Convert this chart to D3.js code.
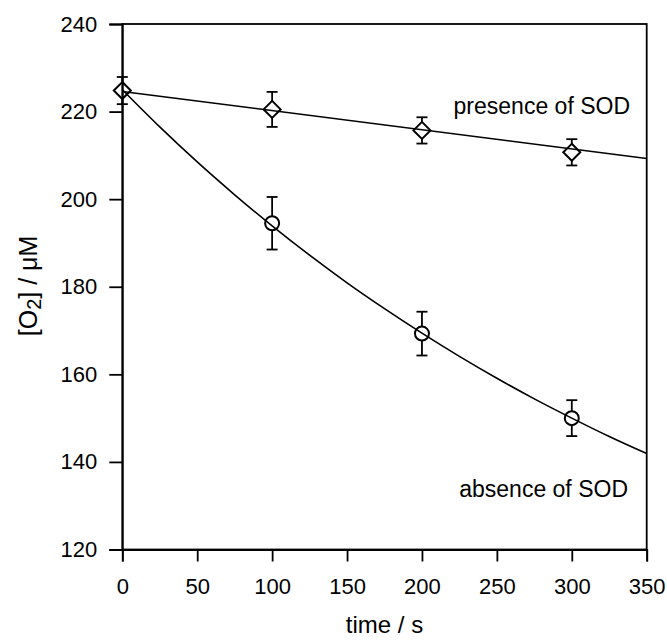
<!DOCTYPE html>
<meta charset="utf-8">
<html>
<head>
    <title>O2 vs time</title>
    <script src="https://d3js.org/d3.v7.min.js"></script>
    <style>
        body { margin: 0; background: #fff; }
        text { font-family: "Liberation Sans", Arial, sans-serif; fill: #000; }
    </style>
</head>
<body>
    <div id="chart"></div>

    <script type="text/javascript">

        // data
        var xTicks = [0, 50, 100, 150, 200, 250, 300, 350],
            yTicks = [120, 140, 160, 180, 200, 220, 240];

        // with SOD (diamonds)
        var presenceT = [0, 100, 200, 300],
            presenceO2 = [224.8, 220.5, 215.7, 210.7],
            presenceErr = [3.1, 4.0, 3.0, 3.0];
        var presenceFitT = [0, 350],
            presenceFitO2 = [224.6, 209.3];

        // without SOD (circles)
        var absenceT = [100, 200, 300],
            absenceO2 = [194.5, 169.3, 150.0],
            absenceErr = [6.0, 5.0, 4.1];
        var absenceFitT = [0, 25, 50, 75, 100, 125, 150, 175, 200, 225, 250, 275, 300, 325, 350],
            absenceFitO2 = [225, 216.5, 208.5, 201.0, 193.9, 187.2, 180.9, 175.0, 169.4, 164.1, 159.1, 154.4, 150.0, 145.8, 141.9];

        var W = 667, H = 640,
            margin = { top: 24, right: 20.3, bottom: 90.5, left: 122.3 },
            width = W - margin.left - margin.right,
            height = H - margin.top - margin.bottom;

        var svg = d3.select("#chart").append("svg")
            .attr("width", W)
            .attr("height", H);

        var x = d3.scaleLinear().domain([0, 350]).range([margin.left, margin.left + width]);
        var y = d3.scaleLinear().domain([120, 240]).range([margin.top + height, margin.top]);

        // frame
        svg.append("rect")
            .attr("x", x(0)).attr("y", y(240))
            .attr("width", x(350) - x(0)).attr("height", y(120) - y(240))
            .style("fill", "none").style("stroke", "#000").style("stroke-width", 1.8);

        // axes
        var xAxis = svg.append("g")
            .attr("transform", "translate(0," + y(120) + ")")
            .call(d3.axisBottom(x).tickValues(xTicks).tickSize(12).tickPadding(17));
        var yAxis = svg.append("g")
            .attr("transform", "translate(" + x(0) + ",0)")
            .call(d3.axisLeft(y).tickValues(yTicks).tickSize(13).tickPadding(12));

        [xAxis, yAxis].forEach(function (g) {
            g.select(".domain").style("stroke-width", 1.8);
            g.selectAll(".tick line").style("stroke-width", 1.8);
            g.selectAll(".tick text")
                .style("font-size", "22px")
                .style("font-family", "'Liberation Sans', Arial, sans-serif");
        });

        // axis titles
        svg.append("text")
            .attr("x", (x(0) + x(350)) / 2)
            .attr("y", 633)
            .attr("text-anchor", "middle")
            .style("font-size", "24px")
            .text("time / s");

        var yt = svg.append("text")
            .attr("transform", "translate(37,286) rotate(-90)")
            .attr("text-anchor", "middle")
            .style("font-size", "25px");
        yt.append("tspan").text("[O");
        yt.append("tspan").attr("dy", 4).style("font-size", "20px").text("2");
        yt.append("tspan").attr("dy", -4).text("] / \u03bcM");

        // fitted curves
        var line = d3.line()
            .x(function (d) { return x(d[0]); })
            .y(function (d) { return y(d[1]); })
            .curve(d3.curveMonotoneX);

        svg.append("path")
            .datum(presenceFitT.map(function (t, i) { return [t, presenceFitO2[i]]; }))
            .attr("d", line)
            .style("fill", "none").style("stroke", "#000").style("stroke-width", 1.6);

        svg.append("path")
            .datum(absenceFitT.map(function (t, i) { return [t, absenceFitO2[i]]; }))
            .attr("d", line)
            .style("fill", "none").style("stroke", "#000").style("stroke-width", 1.6);

        // error bars + markers
        function errorBars(ts, vals, errs, gap) {
            var g = svg.append("g").style("stroke", "#000").style("stroke-width", 1.8);
            ts.forEach(function (t, i) {
                var cx = x(t), top = y(vals[i] + errs[i]), bot = y(vals[i] - errs[i]), cy = y(vals[i]);
                g.append("line").attr("x1", cx).attr("x2", cx).attr("y1", top).attr("y2", cy - gap);
                g.append("line").attr("x1", cx).attr("x2", cx).attr("y1", cy + gap).attr("y2", bot);
                g.append("line").attr("x1", cx - 5.5).attr("x2", cx + 5.5).attr("y1", top).attr("y2", top);
                g.append("line").attr("x1", cx - 5.5).attr("x2", cx + 5.5).attr("y1", bot).attr("y2", bot);
            });
        }

        errorBars(presenceT, presenceO2, presenceErr, 8.5);
        errorBars(absenceT, absenceO2, absenceErr, 7);

        svg.selectAll(".diamond")
            .data(presenceT)
            .enter().append("path")
            .attr("class", "diamond")
            .attr("d", function (t, i) {
                var cx = x(t), cy = y(presenceO2[i]), r = 8.5;
                return "M" + cx + "," + (cy - r) + "L" + (cx + r) + "," + cy + "L" + cx + "," + (cy + r) + "L" + (cx - r) + "," + cy + "Z";
            })
            .style("fill", "none").style("stroke", "#000").style("stroke-width", 2);

        svg.selectAll(".circ")
            .data(absenceT)
            .enter().append("circle")
            .attr("class", "circ")
            .attr("cx", function (t) { return x(t); })
            .attr("cy", function (t, i) { return y(absenceO2[i]); })
            .attr("r", 7)
            .style("fill", "none").style("stroke", "#000").style("stroke-width", 2);

        // series labels
        svg.append("text")
            .attr("x", 630).attr("y", 114)
            .attr("text-anchor", "end")
            .style("font-size", "23px")
            .text("presence of SOD");

        svg.append("text")
            .attr("x", 628).attr("y", 497)
            .attr("text-anchor", "end")
            .style("font-size", "23px")
            .text("absence of SOD");

    </script>

</body>
</html>
